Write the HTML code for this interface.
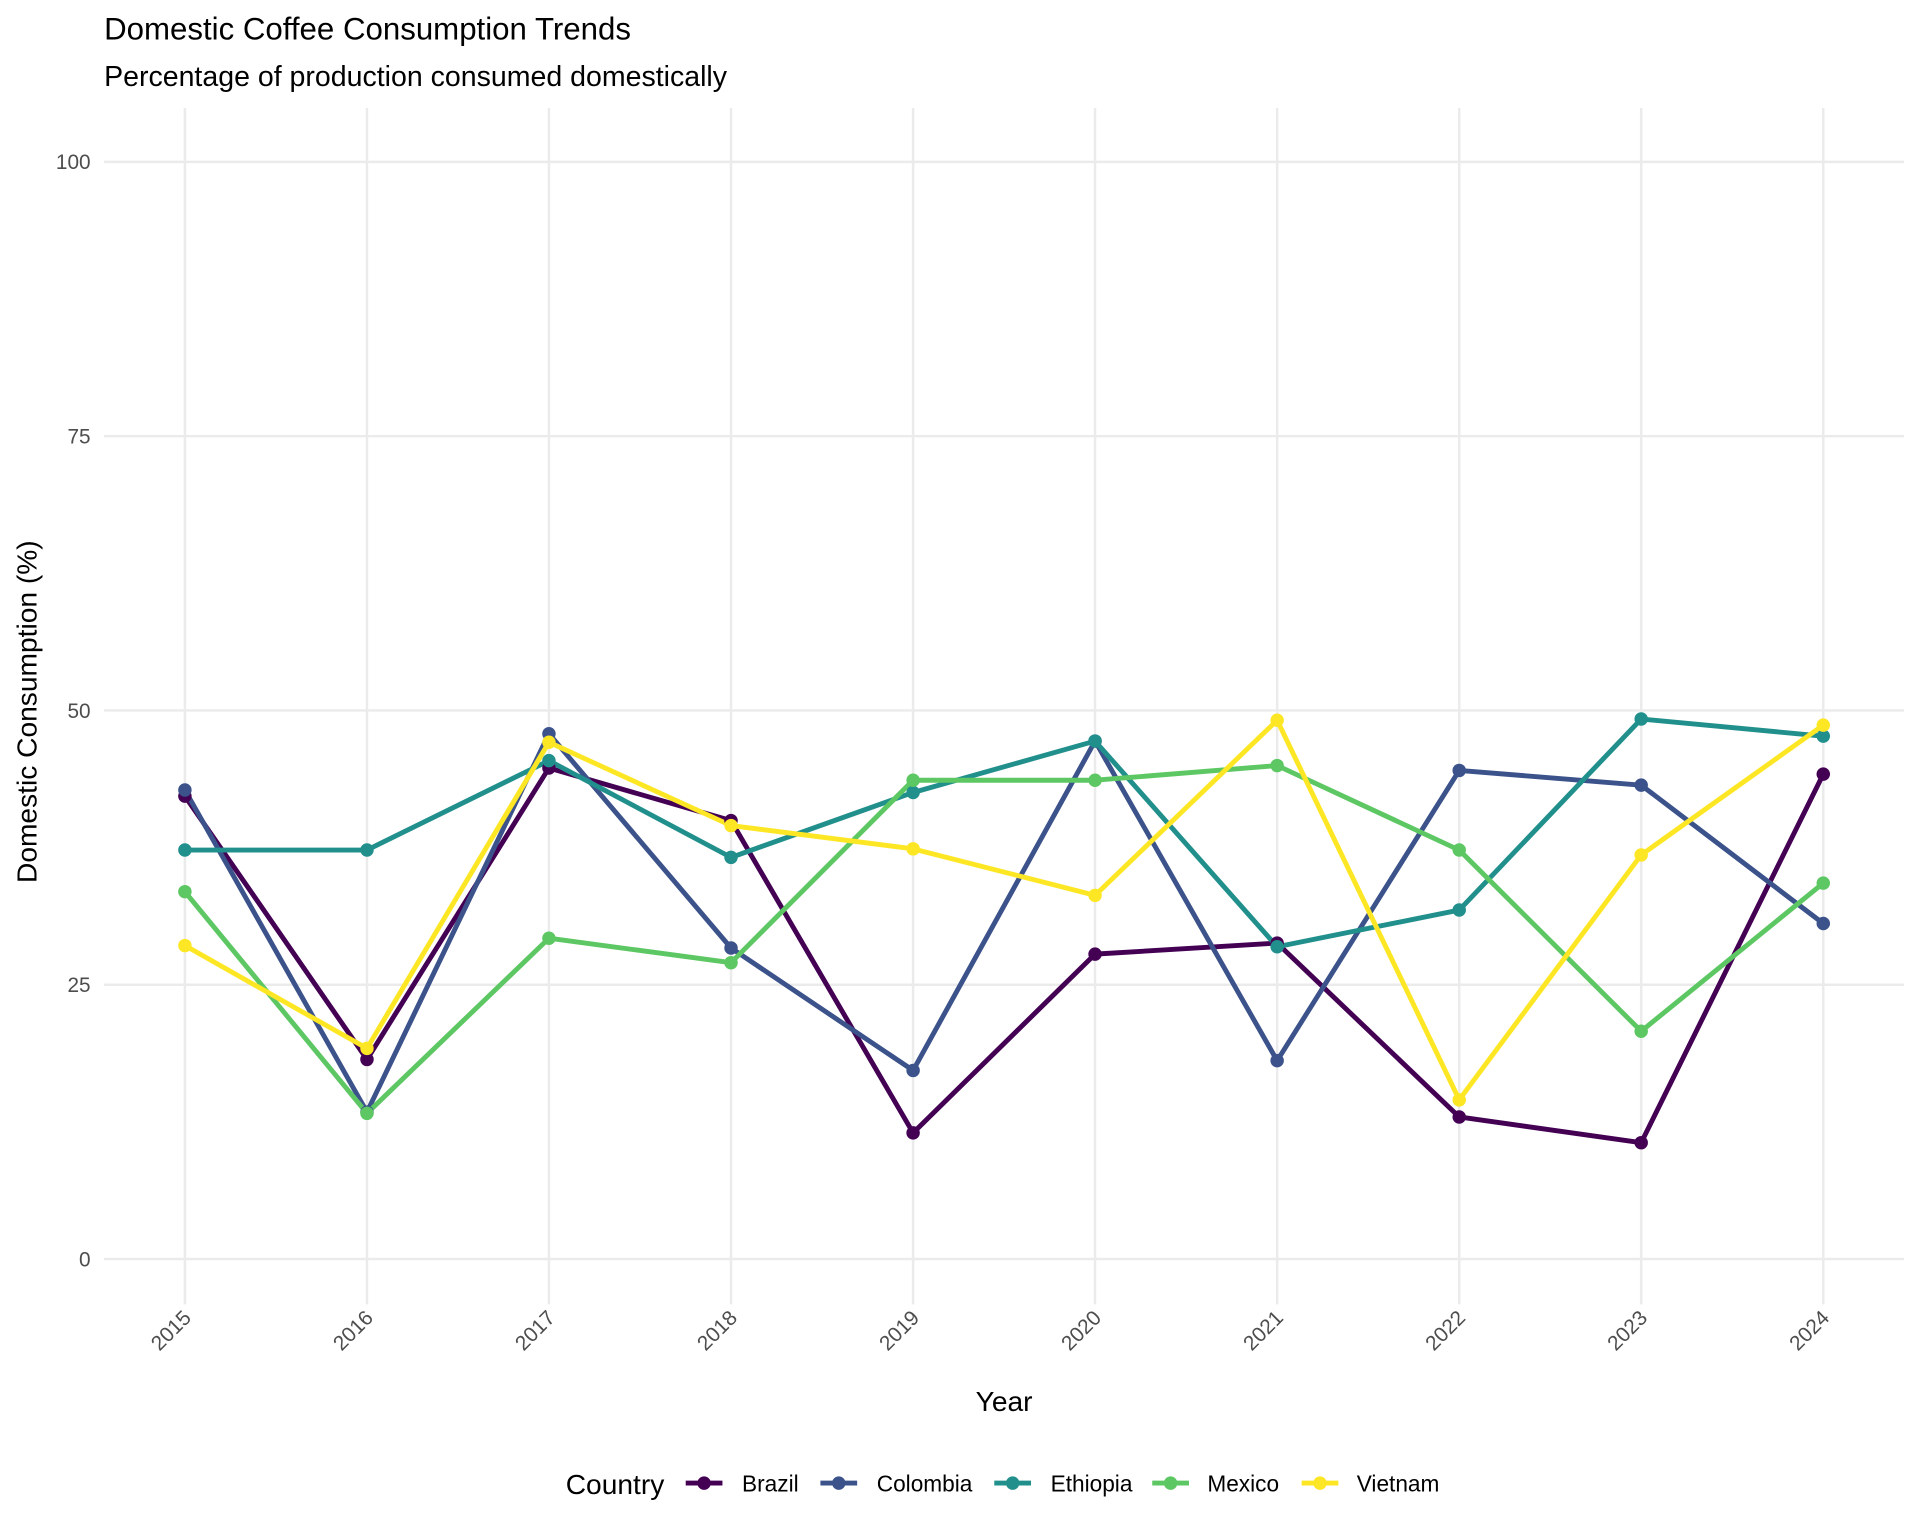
<!DOCTYPE html>
<html><head><meta charset="utf-8"><style>html,body{margin:0;padding:0;background:#fff}svg{display:block}</style></head>
<body>
<svg width="1920" height="1536" viewBox="0 0 1568 1254" xmlns="http://www.w3.org/2000/svg" font-family="Liberation Sans, sans-serif">
<rect width="1568" height="1254" fill="#fff"/>
<g stroke="#ebebeb" stroke-width="2">
<line x1="85" x2="1555" y1="1028" y2="1028"/><line x1="85" x2="1555" y1="804" y2="804"/><line x1="85" x2="1555" y1="580" y2="580"/><line x1="85" x2="1555" y1="356" y2="356"/><line x1="85" x2="1555" y1="132" y2="132"/>
<line x1="151" x2="151" y1="88" y2="1065"/><line x1="299.7" x2="299.7" y1="88" y2="1065"/><line x1="448.3" x2="448.3" y1="88" y2="1065"/><line x1="597" x2="597" y1="88" y2="1065"/><line x1="745.7" x2="745.7" y1="88" y2="1065"/><line x1="894.3" x2="894.3" y1="88" y2="1065"/><line x1="1043" x2="1043" y1="88" y2="1065"/><line x1="1191.7" x2="1191.7" y1="88" y2="1065"/><line x1="1340.3" x2="1340.3" y1="88" y2="1065"/><line x1="1489" x2="1489" y1="88" y2="1065"/>
</g>
<g fill="#4d4d4d" font-size="17" text-anchor="end">
<text x="74" y="1034">0</text><text x="74" y="810">25</text><text x="74" y="586">50</text><text x="74" y="362">75</text><text x="74" y="138">100</text>
</g>
<g fill="#4d4d4d" font-size="17" text-anchor="end">
<text transform="translate(157,1077) rotate(-45)">2015</text><text transform="translate(305.7,1077) rotate(-45)">2016</text><text transform="translate(454.3,1077) rotate(-45)">2017</text><text transform="translate(603,1077) rotate(-45)">2018</text><text transform="translate(751.7,1077) rotate(-45)">2019</text><text transform="translate(900.3,1077) rotate(-45)">2020</text><text transform="translate(1049,1077) rotate(-45)">2021</text><text transform="translate(1197.7,1077) rotate(-45)">2022</text><text transform="translate(1346.3,1077) rotate(-45)">2023</text><text transform="translate(1495,1077) rotate(-45)">2024</text>
</g>
<g fill="none" stroke-width="4" stroke-linejoin="round">
<polyline stroke="#440154" points="151,650 299.7,865 448.3,627 597,670 745.7,925 894.3,779 1043,770 1191.7,912 1340.3,933 1489,632"/>
<polyline stroke="#3B528B" points="151,645 299.7,908 448.3,599 597,774 745.7,874 894.3,605 1043,866 1191.7,629 1340.3,641 1489,754"/>
<polyline stroke="#21908C" points="151,694 299.7,694 448.3,621 597,700 745.7,647 894.3,605 1043,773 1191.7,743 1340.3,587 1489,601"/>
<polyline stroke="#5DC863" points="151,728 299.7,909 448.3,766 597,786 745.7,637 894.3,637 1043,625 1191.7,694 1340.3,842 1489,721"/>
<polyline stroke="#FDE725" points="151,772 299.7,856 448.3,606 597,674 745.7,693 894.3,731 1043,588 1191.7,898 1340.3,698 1489,592"/>
</g>
<g fill="#440154"><circle cx="151" cy="650" r="5.5"/><circle cx="299.7" cy="865" r="5.5"/><circle cx="448.3" cy="627" r="5.5"/><circle cx="597" cy="670" r="5.5"/><circle cx="745.7" cy="925" r="5.5"/><circle cx="894.3" cy="779" r="5.5"/><circle cx="1043" cy="770" r="5.5"/><circle cx="1191.7" cy="912" r="5.5"/><circle cx="1340.3" cy="933" r="5.5"/><circle cx="1489" cy="632" r="5.5"/></g>
<g fill="#3B528B"><circle cx="151" cy="645" r="5.5"/><circle cx="299.7" cy="908" r="5.5"/><circle cx="448.3" cy="599" r="5.5"/><circle cx="597" cy="774" r="5.5"/><circle cx="745.7" cy="874" r="5.5"/><circle cx="894.3" cy="605" r="5.5"/><circle cx="1043" cy="866" r="5.5"/><circle cx="1191.7" cy="629" r="5.5"/><circle cx="1340.3" cy="641" r="5.5"/><circle cx="1489" cy="754" r="5.5"/></g>
<g fill="#21908C"><circle cx="151" cy="694" r="5.5"/><circle cx="299.7" cy="694" r="5.5"/><circle cx="448.3" cy="621" r="5.5"/><circle cx="597" cy="700" r="5.5"/><circle cx="745.7" cy="647" r="5.5"/><circle cx="894.3" cy="605" r="5.5"/><circle cx="1043" cy="773" r="5.5"/><circle cx="1191.7" cy="743" r="5.5"/><circle cx="1340.3" cy="587" r="5.5"/><circle cx="1489" cy="601" r="5.5"/></g>
<g fill="#5DC863"><circle cx="151" cy="728" r="5.5"/><circle cx="299.7" cy="909" r="5.5"/><circle cx="448.3" cy="766" r="5.5"/><circle cx="597" cy="786" r="5.5"/><circle cx="745.7" cy="637" r="5.5"/><circle cx="894.3" cy="637" r="5.5"/><circle cx="1043" cy="625" r="5.5"/><circle cx="1191.7" cy="694" r="5.5"/><circle cx="1340.3" cy="842" r="5.5"/><circle cx="1489" cy="721" r="5.5"/></g>
<g fill="#FDE725"><circle cx="151" cy="772" r="5.5"/><circle cx="299.7" cy="856" r="5.5"/><circle cx="448.3" cy="606" r="5.5"/><circle cx="597" cy="674" r="5.5"/><circle cx="745.7" cy="693" r="5.5"/><circle cx="894.3" cy="731" r="5.5"/><circle cx="1043" cy="588" r="5.5"/><circle cx="1191.7" cy="898" r="5.5"/><circle cx="1340.3" cy="698" r="5.5"/><circle cx="1489" cy="592" r="5.5"/></g>
<text x="85" y="32" font-size="25.5" fill="#000">Domestic Coffee Consumption Trends</text>
<text x="85" y="70" font-size="23.3" fill="#000">Percentage of production consumed domestically</text>
<text x="820" y="1152" font-size="23" text-anchor="middle" fill="#000">Year</text>
<text transform="translate(30,581) rotate(-90)" font-size="23" text-anchor="middle" fill="#000">Domestic Consumption (%)</text>
<text x="462" y="1220" font-size="23" fill="#000">Country</text>
<g stroke-width="4">
<line x1="560" x2="590" y1="1211" y2="1211" stroke="#440154"/><circle cx="575" cy="1211" r="5.5" fill="#440154"/>
<line x1="670" x2="700" y1="1211" y2="1211" stroke="#3B528B"/><circle cx="685" cy="1211" r="5.5" fill="#3B528B"/>
<line x1="812" x2="842" y1="1211" y2="1211" stroke="#21908C"/><circle cx="827" cy="1211" r="5.5" fill="#21908C"/>
<line x1="941" x2="971" y1="1211" y2="1211" stroke="#5DC863"/><circle cx="956" cy="1211" r="5.5" fill="#5DC863"/>
<line x1="1063" x2="1093" y1="1211" y2="1211" stroke="#FDE725"/><circle cx="1078" cy="1211" r="5.5" fill="#FDE725"/>
</g>
<g font-size="18.5" fill="#000">
<text x="606" y="1218">Brazil</text><text x="716" y="1218">Colombia</text><text x="858" y="1218">Ethiopia</text><text x="986" y="1218">Mexico</text><text x="1108" y="1218">Vietnam</text>
</g>
</svg>
</body></html>
